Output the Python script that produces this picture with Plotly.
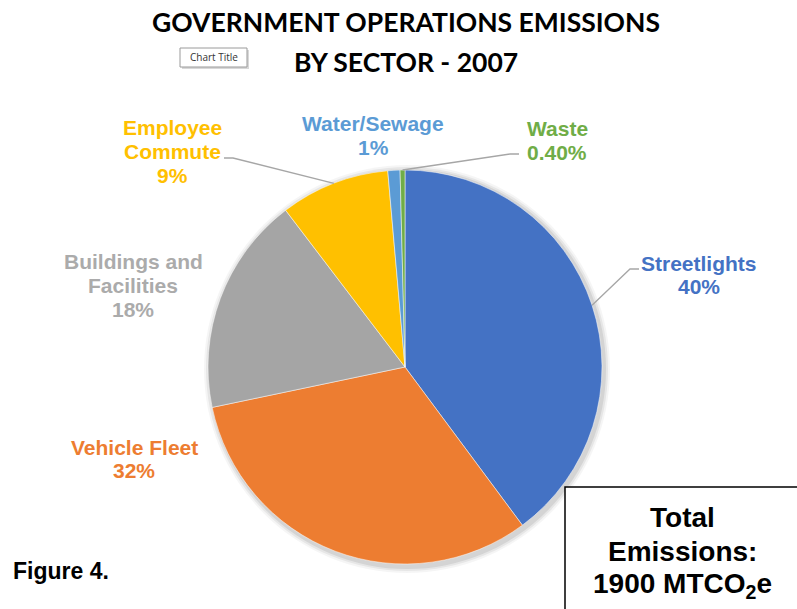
import math
import plotly.graph_objects as go

# Sector data (percent of total emissions)
sectors = ["Streetlights", "Vehicle Fleet", "Buildings and Facilities",
           "Employee Commute", "Water/Sewage", "Waste"]
values = [40, 32, 18, 9, 1, 0.4]
pct_labels = ["40%", "32%", "18%", "9%", "1%", "0.40%"]
label_lines = [["Streetlights"], ["Vehicle Fleet"], ["Buildings and", "Facilities"],
               ["Employee", "Commute"], ["Water/Sewage"], ["Waste"]]
colors = ["#4472C4", "#ED7D31", "#A5A5A5", "#FFC000", "#5B9BD5", "#70AD47"]
label_colors = ["#4472C4", "#ED7D31", "#ABABAB", "#FFC000", "#5B9BD5", "#70AD47"]

W, H = 797, 609
CX, CY, R = 405, 367, 197  # pie centre / radius in pixels


def px(x):
    return x / W


def py(y):
    return 1 - y / H


fig = go.Figure()

# soft shadow under the pie
shapes = []
for grow, op in [(6, 0.04), (4, 0.06), (2, 0.08)]:
    shapes.append(dict(type="circle", xref="paper", yref="paper",
                       x0=px(CX - R - grow + 2), x1=px(CX + R + grow + 2),
                       y0=py(CY + R + grow + 3), y1=py(CY - R - grow + 1),
                       fillcolor=f"rgba(0,0,0,{op})", line=dict(width=0),
                       layer="below"))

fig.add_trace(go.Pie(
    labels=sectors, values=values, sort=False, direction="clockwise",
    rotation=0, textinfo="none", hoverinfo="label+percent",
    marker=dict(colors=colors, line=dict(color="white", width=0.5)),
    domain=dict(x=[px(CX - R), px(CX + R)], y=[py(CY + R), py(CY - R)]),
    showlegend=False,
))

total = sum(values)


def edge_point(idx):
    """Pixel point on the rim at the middle of slice idx."""
    start = sum(values[:idx])
    mid = (start + values[idx] / 2) / total * 2 * math.pi
    return CX + R * math.sin(mid), CY - R * math.cos(mid)


annotations = []


def text_line(text, x, y, size, color, family="Liberation Sans, Arial",
              xanchor="center"):
    annotations.append(dict(
        x=px(x), y=py(y), xref="paper", yref="paper", xanchor=xanchor,
        yanchor="middle", showarrow=False, text=text,
        font=dict(family=family, size=size, color=color),
    ))


# data labels: centre x and centre y of the first line (pixels)
label_pos = {
    0: (699, 263),
    1: (134, 447),
    2: (133, 262),
    3: (172, 128),
    4: (373, 124),
    5: (557, 129),
}
LINE = 23.5
for i, (x, y) in label_pos.items():
    for k, line in enumerate(label_lines[i] + [pct_labels[i]]):
        text_line(f"<b>{line}</b>", x, y + k * LINE, 21, label_colors[i])

# leader lines: (slice index, elbow pixel, label-side end pixel)
leaders = [(0, (630, 269), (639, 269)),
           (3, (233, 158), (224, 158)),
           (5, (510, 154), (519, 154))]
for idx, elbow, end in leaders:
    ex, ey = edge_point(idx)
    path = (f"M {px(ex)} {py(ey)} L {px(elbow[0])} {py(elbow[1])} "
            f"L {px(end[0])} {py(end[1])}")
    shapes.append(dict(type="path", xref="paper", yref="paper", path=path,
                       line=dict(color="#A6A6A6", width=1.3)))

# title, one annotation per line
for line, yc in [("GOVERNMENT OPERATIONS EMISSIONS", 22),
                 ("BY SECTOR - 2007", 62)]:
    text_line(f"<b>{line}</b>", 406, yc, 26.5, "#000000",
              family="Lato, Open Sans")

# small "Chart Title" tag with a drop shadow
shapes.append(dict(type="rect", xref="paper", yref="paper",
                   x0=px(182), x1=px(249), y0=py(69), y1=py(50),
                   fillcolor="#D8D8D8", line=dict(width=0)))
shapes.append(dict(type="rect", xref="paper", yref="paper",
                   x0=px(180), x1=px(247), y0=py(67), y1=py(48),
                   fillcolor="white", line=dict(color="#9A9A9A", width=1)))
text_line("Chart Title", 213.5, 57.5, 10, "#333333",
          family="Open Sans, Noto Sans")

# total emissions box
shapes.append(dict(type="rect", xref="paper", yref="paper",
                   x0=px(565), x1=px(800), y0=py(612), y1=py(487),
                   line=dict(color="black", width=1.5), fillcolor="white"))
for line, yc in [("Total", 517), ("Emissions:", 551),
                 ("1900 MTCO<sub>2</sub>e", 585)]:
    text_line(f"<b>{line}</b>", 682, yc, 28, "black")

# figure caption
text_line("<b>Figure 4.</b>", 11, 571, 23, "black", xanchor="left")

fig.update_layout(
    width=W, height=H, margin=dict(l=0, r=0, t=0, b=0),
    paper_bgcolor="white", plot_bgcolor="white",
    shapes=shapes, annotations=annotations,
)

fig.write_html("out.html")
